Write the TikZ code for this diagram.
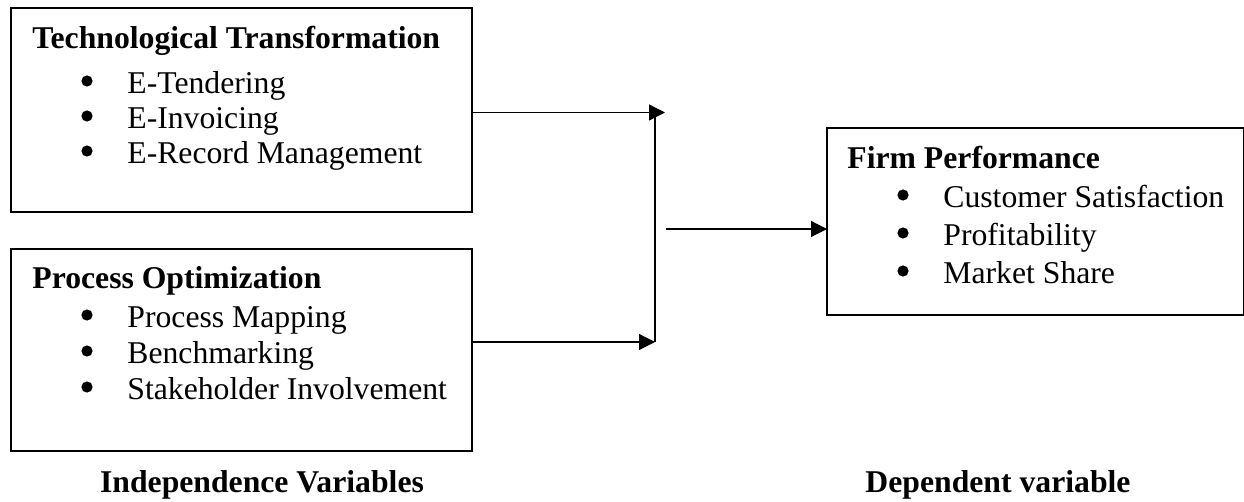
\documentclass[tikz,border=0pt]{standalone}
\usepackage{fontspec}
\setmainfont{Liberation Serif}
\usetikzlibrary{
    arrows.meta,
    positioning
}
\tikzset{
    % Boxes
    var box/.style={draw,line width=0.6pt,rectangle,inner sep=0pt,outer sep=0pt,anchor=north west,minimum width=#1},
    %
    % Texts
    box title/.style={anchor=base west,inner sep=0pt,font=\fontsize{15.85}{19}\selectfont\bfseries},
    box item/.style={anchor=base west,inner sep=0pt},
    var label/.style={anchor=base,inner sep=0pt,font=\fontsize{15.85}{19}\selectfont\bfseries},
    bullet dot/.style={fill=black},
    %
    % Arrows
    arrow tip/.tip={Triangle[length=8pt,width=8pt]},
    line/.style={line width=0.6pt},
    arr/.style={line,-{arrow tip}}
}
\tikzstyle{every node}=[font=\fontsize{15.85}{19}\selectfont]

\begin{document}
\begin{tikzpicture}[x=0.5pt,y=-0.5pt]
    \useasboundingbox (0,0) rectangle (1244,502);
    % independent variables
    \node[var box=230.5pt,minimum height=102pt] (tt) at (11,8) {};
    \node[box title] (tt title) at (32,49) {Technological Transformation};
    \node[box item] (tt1) at (127,94) {E-Tendering};
    \node[box item] (tt2) at (127,129) {E-Invoicing};
    \node[box item] (tt3) at (127,164) {E-Record Management};

    \node[var box=230.5pt,minimum height=101pt] (po) at (11,249) {};
    \node[box title] (po title) at (32,289) {Process Optimization};
    \node[box item] (po1) at (127,328) {Process Mapping};
    \node[box item] (po2) at (127,364) {Benchmarking};
    \node[box item] (po3) at (127,400) {Stakeholder Involvement};

    % dependent variable
    \node[var box=208.5pt,minimum height=93.5pt] (fp) at (827,128) {};
    \node[box title] (fp title) at (847,169) {Firm Performance};
    \node[box item] (fp1) at (943,208) {Customer Satisfaction};
    \node[box item] (fp2) at (943,246) {Profitability};
    \node[box item] (fp3) at (943,284) {Market Share};

    % bullets
    \foreach \n in {tt1,tt2,tt3,po1,po2,po3,fp1,fp2,fp3}
        \fill[bullet dot] ([xshift=-20pt,yshift=6.5pt]\n.base west) circle (2.8pt);

    % connectors
    \coordinate (tip tt) at (665,112.5);
    \coordinate (tip po) at (655,342);
    \coordinate (mid) at (666,229);
    \draw[arr] ([yshift=-1.25pt]tt.east) -- (tip tt);
    \draw[arr] ([yshift=4pt]po.east) -- (tip po);
    \draw[line] (tip po) -- (tip po |- tip tt);
    \draw[arr] (mid) -- (fp.west |- mid);

    \node[var label] (iv) at (262,493) {Independence Variables};
    \node[var label] (dv) at (998,493) {Dependent variable};
\end{tikzpicture}
\end{document}
